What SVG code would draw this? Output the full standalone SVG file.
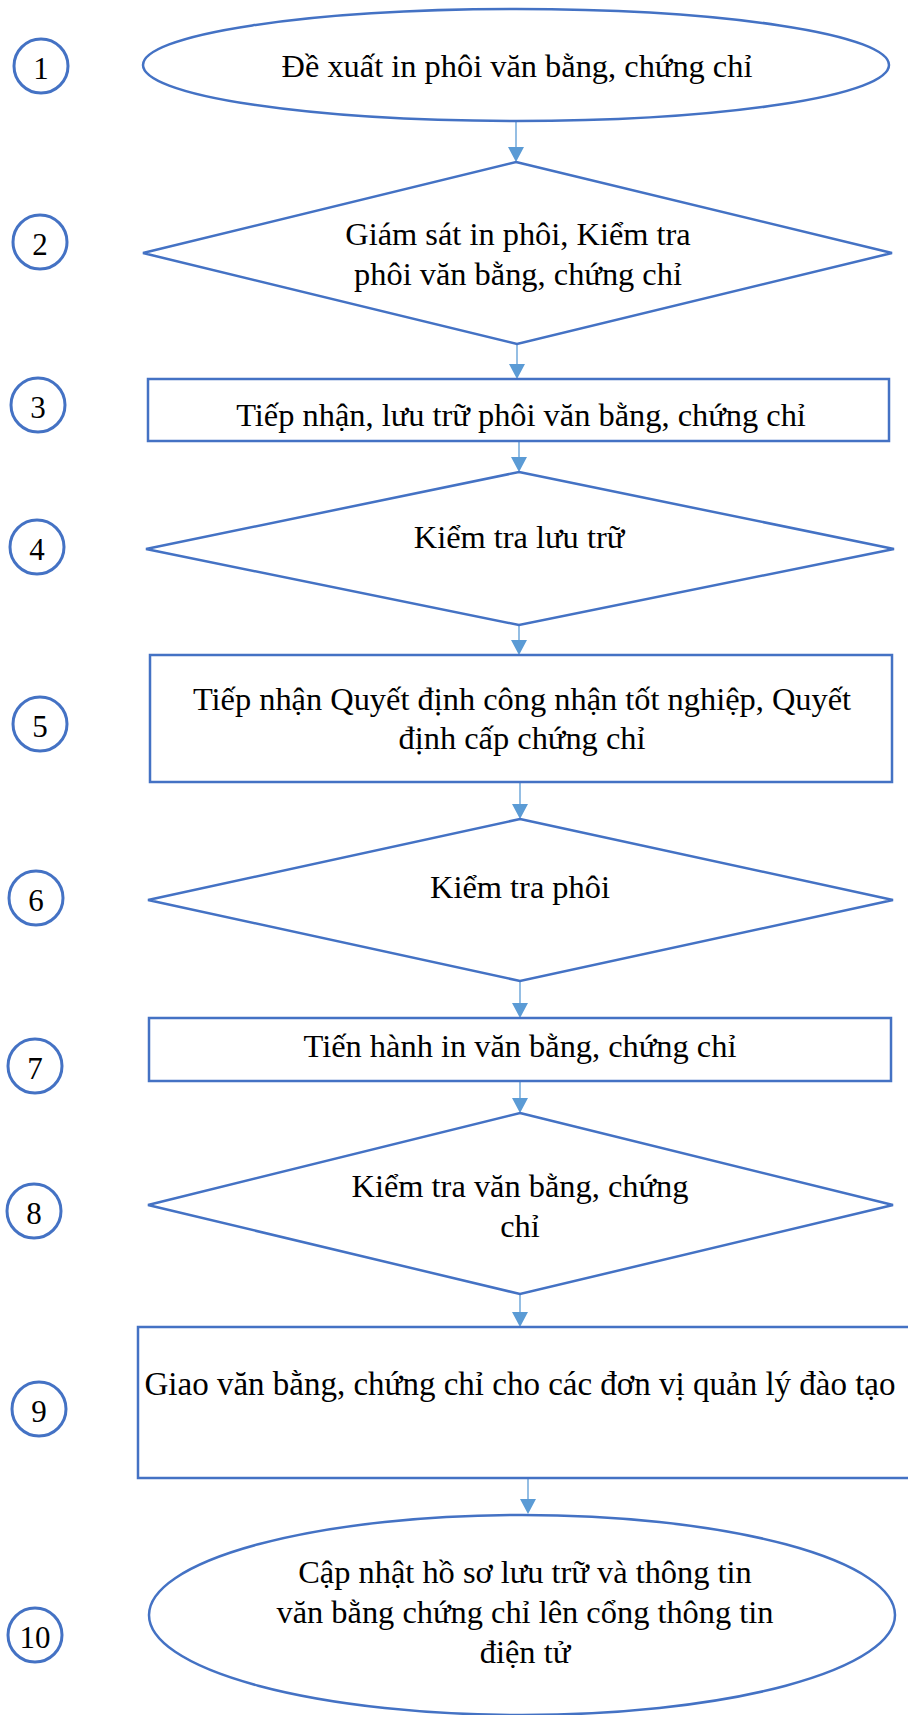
<svg xmlns="http://www.w3.org/2000/svg" width="908" height="1715" viewBox="0 0 908 1715">
<defs>
<style>
.shape{fill:#fff;stroke:#4472C4;stroke-width:2.5}
.num{fill:#fff;stroke:#4472C4;stroke-width:3}
.t{font-family:"Liberation Serif","Times New Roman",serif;font-size:32.4px;fill:#000;text-anchor:middle}
.n{font-family:"Liberation Serif","Times New Roman",serif;font-size:31px;fill:#000;text-anchor:middle}
.c{stroke:#5B9BD5;stroke-width:1.3;fill:none}
</style>
</defs>
<rect width="908" height="1715" fill="#fff"/>

<g id="connectors">
<line class="c" x1="516" y1="121" x2="516" y2="150"/>
<line class="c" x1="517" y1="345" x2="517" y2="366"/>
<line class="c" x1="519" y1="442" x2="519" y2="459"/>
<line class="c" x1="519" y1="626" x2="519" y2="642"/>
<line class="c" x1="520" y1="783" x2="520" y2="806"/>
<line class="c" x1="520" y1="982" x2="520" y2="1005"/>
<line class="c" x1="520" y1="1082" x2="520" y2="1100"/>
<line class="c" x1="520" y1="1295" x2="520" y2="1314"/>
<line class="c" x1="528" y1="1479" x2="528" y2="1501"/>
<g fill="#5B9BD5" stroke="none">
<path d="M508,147 L524,147 L516,162 Z"/>
<path d="M509,364 L525,364 L517,379 Z"/>
<path d="M511,457 L527,457 L519,472 Z"/>
<path d="M511,640 L527,640 L519,655 Z"/>
<path d="M512,804 L528,804 L520,819 Z"/>
<path d="M512,1003 L528,1003 L520,1018 Z"/>
<path d="M512,1098 L528,1098 L520,1113 Z"/>
<path d="M512,1312 L528,1312 L520,1327 Z"/>
<path d="M520,1499 L536,1499 L528,1514 Z"/>
</g>
</g>

<g id="node1">
<ellipse class="shape" cx="516" cy="65" rx="373" ry="56"/>
<text class="t" x="517" y="77">Đề xuất in phôi văn bằng, chứng chỉ</text>
</g>
<g id="node2">
<polygon class="shape" points="516,162 892,253 517,344 143,253"/>
<text class="t" x="518" y="245">Giám sát in phôi, Kiểm tra</text>
<text class="t" x="518" y="285">phôi văn bằng, chứng chỉ</text>
</g>
<g id="node3">
<rect class="shape" x="148" y="379" width="741" height="62"/>
<text class="t" x="521" y="426">Tiếp nhận, lưu trữ phôi văn bằng, chứng chỉ</text>
</g>
<g id="node4">
<polygon class="shape" points="519,472 894,549 519,625 146,549"/>
<text class="t" x="519" y="548">Kiểm tra lưu trữ</text>
</g>
<g id="node5">
<rect class="shape" x="150" y="655" width="742" height="127"/>
<text class="t" x="522" y="710">Tiếp nhận Quyết định công nhận tốt nghiệp, Quyết</text>
<text class="t" x="522" y="749">định cấp chứng chỉ</text>
</g>
<g id="node6">
<polygon class="shape" points="520,819 893,900 520,981 148,900"/>
<text class="t" x="520" y="898">Kiểm tra phôi</text>
</g>
<g id="node7">
<rect class="shape" x="149" y="1018" width="742" height="63"/>
<text class="t" x="520" y="1057">Tiến hành in văn bằng, chứng chỉ</text>
</g>
<g id="node8">
<polygon class="shape" points="520,1113 893,1205 520,1294 148,1205"/>
<text class="t" x="520" y="1197">Kiểm tra văn bằng, chứng</text>
<text class="t" x="520" y="1237">chỉ</text>
</g>
<g id="node9">
<rect class="shape" x="138" y="1327" width="790" height="151"/>
<text class="t" x="520" y="1395" style="font-size:33px">Giao văn bằng, chứng chỉ cho các đơn vị quản lý đào tạo</text>
</g>
<g id="node10">
<ellipse class="shape" cx="522" cy="1615" rx="373" ry="100"/>
<text class="t" x="525" y="1583">Cập nhật hồ sơ lưu trữ và thông tin</text>
<text class="t" x="525" y="1623">văn bằng chứng chỉ lên cổng thông tin</text>
<text class="t" x="525" y="1663">điện tử</text>
</g>

<g id="step1"><circle class="num" cx="41" cy="66" r="27"/><text class="n" x="41" y="79">1</text></g>
<g id="step2"><circle class="num" cx="40" cy="242" r="27"/><text class="n" x="40" y="255">2</text></g>
<g id="step3"><circle class="num" cx="38" cy="405" r="27"/><text class="n" x="38" y="418">3</text></g>
<g id="step4"><circle class="num" cx="37" cy="547" r="27"/><text class="n" x="37" y="560">4</text></g>
<g id="step5"><circle class="num" cx="40" cy="724" r="27"/><text class="n" x="40" y="737">5</text></g>
<g id="step6"><circle class="num" cx="36" cy="898" r="27"/><text class="n" x="36" y="911">6</text></g>
<g id="step7"><circle class="num" cx="35" cy="1066" r="27"/><text class="n" x="35" y="1079">7</text></g>
<g id="step8"><circle class="num" cx="34" cy="1211" r="27"/><text class="n" x="34" y="1224">8</text></g>
<g id="step9"><circle class="num" cx="39" cy="1409" r="27"/><text class="n" x="39" y="1422">9</text></g>
<g id="step10"><circle class="num" cx="35" cy="1635" r="27"/><text class="n" x="35" y="1648">10</text></g>
</svg>
